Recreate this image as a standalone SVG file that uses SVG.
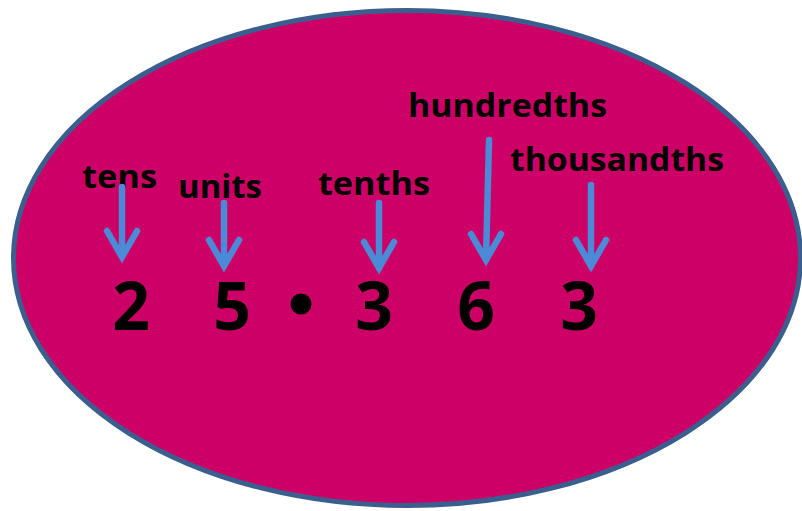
<svg xmlns="http://www.w3.org/2000/svg" width="802" height="511" viewBox="0 0 802 511">
<style>
.lbl{font-family:"Open Sans","DejaVu Sans",sans-serif;font-weight:700;font-size:33px;fill:#000}
.dig{font-family:"Open Sans","DejaVu Sans",sans-serif;font-weight:700;font-size:66px;fill:#000;text-anchor:middle}
.arr{stroke:#4a8ad6;stroke-width:6.5;fill:none;stroke-linecap:round;stroke-linejoin:miter}
</style>
<rect width="802" height="511" fill="#fff"/>
<g id="oval"><ellipse cx="407" cy="258" rx="393.5" ry="247.5" fill="#cc0066" stroke="#3a5f8f" stroke-width="5"/></g>
<g id="labels">
<text class="lbl" x="82" y="188" textLength="75" lengthAdjust="spacingAndGlyphs">tens</text>
<text class="lbl" x="178" y="198" textLength="84" lengthAdjust="spacingAndGlyphs">units</text>
<text class="lbl" x="318" y="195" textLength="112" lengthAdjust="spacingAndGlyphs">tenths</text>
<text class="lbl" x="408" y="117" textLength="199" lengthAdjust="spacingAndGlyphs">hundredths</text>
<text class="lbl" x="510" y="171" textLength="214" lengthAdjust="spacingAndGlyphs">thousandths</text>
</g>
<g id="digits">
<text class="dig" x="131" y="330">2</text>
<text class="dig" x="232" y="330">5</text>
<circle cx="301" cy="304" r="10.5" fill="#000"/>
<text class="dig" x="374" y="330">3</text>
<text class="dig" x="476" y="330">6</text>
<text class="dig" x="579" y="330">3</text>
</g>
<g id="connectors">
<path class="arr" d="M122 187V256M107 231L122 257L137 231"/>
<path class="arr" d="M224 203V266M209 240L224 266L239 240"/>
<path class="arr" d="M379 203V268M364 242L379 268L394 242"/>
<path class="arr" d="M489 140L486 260M471 234L486 260L501 234"/>
<path class="arr" d="M591 185V266M576 240L591 266L606 240"/>
</g>
</svg>
